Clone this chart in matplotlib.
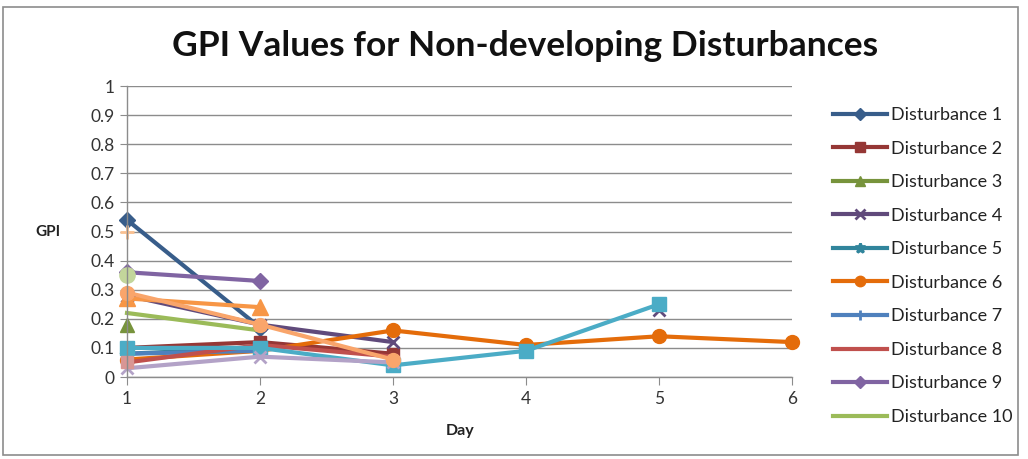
import numpy as np
import matplotlib
matplotlib.use("Agg")
import matplotlib.pyplot as plt
from matplotlib.patches import Rectangle

plt.rcParams['font.family'] = ['Lato', 'DejaVu Sans']

days = [1, 2, 3, 4, 5, 6]
nan = np.nan

names = ["Disturbance 1", "Disturbance 2", "Disturbance 3", "Disturbance 4",
         "Disturbance 5", "Disturbance 6", "Disturbance 7", "Disturbance 8",
         "Disturbance 9", "Disturbance 10", "Disturbance 11", "Disturbance 12",
         "Disturbance 13", "Disturbance 14", "Disturbance 15", "Disturbance 16",
         "Disturbance 17", "Disturbance 18"]

d1 = [0.54, 0.17, nan, nan, nan, nan]
d2 = [0.10, 0.12, 0.08, nan, nan, nan]
d3 = [0.18, nan, nan, nan, nan, nan]
d4 = [0.28, 0.18, 0.12, nan, 0.23, nan]
d5 = [0.08, 0.10, nan, nan, nan, nan]
d6 = [0.06, 0.09, 0.16, 0.11, 0.14, 0.12]
d7 = [0.08, 0.09, nan, nan, nan, nan]
d8 = [0.05, 0.11, 0.07, nan, nan, nan]
d9 = [0.36, 0.33, nan, nan, nan, nan]
d10 = [0.22, 0.16, nan, nan, nan, nan]
d11 = [0.10, 0.10, 0.04, 0.09, 0.25, nan]
d12 = [0.27, 0.24, nan, nan, nan, nan]
d13 = [0.03, 0.07, 0.05, nan, nan, nan]
d14 = [0.35, nan, nan, nan, nan, nan]
d15 = [0.29, 0.18, 0.06, nan, nan, nan]
d16 = [0.50, nan, nan, nan, nan, nan]
d17 = [0.05, nan, nan, nan, nan, nan]
d18 = [0.35, nan, nan, nan, nan, nan]

series = [d1, d2, d3, d4, d5, d6, d7, d8, d9, d10, d11, d12, d13, d14, d15, d16, d17, d18]

colors = ['#385D8A', '#953735', '#77933C', '#604A7B', '#31859C', '#E46C0A',
          '#4F81BD', '#C0504D', '#8064A2', '#9BBB59', '#4BACC6', '#F79646',
          '#B3A2C7', '#93CDDD', '#F9A56B', '#FAC090', '#D99694', '#C3D69B']
markers = ['D', 's', '^', 'x', '*', 'o', '+', '', 'D', '', 's', '^',
           'x', '*', 'o', '+', 's', 'o']
msizes = [8, 9, 10, 9, 10, 10, 10, 0, 8, 0, 10, 11, 9, 10, 10, 10, 9, 11]

W, H = 1028, 459
fig = plt.figure(figsize=(W / 100, H / 100), dpi=100)
fig.patch.set_facecolor('white')

# outer chart border
fig.add_artist(Rectangle((3 / W, 4 / H), 1015 / W, 448 / H, transform=fig.transFigure,
                         fill=False, edgecolor='#8c8c8c', linewidth=1.2))

ax = fig.add_axes([127 / W, 1 - 377 / H, (792 - 127) / W, (377 - 86) / H])

handles = []
for vals, c, m, ms, nm in zip(series, colors, markers, msizes, names):
    mew = 2 if m in ('x', '+', '*') else 1
    h, = ax.plot(days, vals, color=c, linewidth=3, marker=m if m else None,
                 markersize=ms, markeredgewidth=mew, markeredgecolor=c,
                 markerfacecolor=c, label=nm, clip_on=False)
    handles.append(h)

ax.set_xlim(1, 6)
ax.set_ylim(0, 1)
ax.set_yticks(np.arange(0, 1.01, 0.1))
ax.set_yticklabels(["0", "0.1", "0.2", "0.3", "0.4", "0.5", "0.6", "0.7", "0.8", "0.9", "1"])
ax.set_xticks(days)
ax.set_xticklabels([str(d) for d in days])
ax.grid(axis='y', color='#8c8c8c', linewidth=1)
ax.set_axisbelow(True)
for s in ['top', 'right']:
    ax.spines[s].set_visible(False)
ax.spines['left'].set_color('#8c8c8c')
ax.spines['bottom'].set_color('#8c8c8c')
ax.spines['left'].set_linewidth(1)
ax.spines['bottom'].set_linewidth(1)
ax.tick_params(axis='y', length=5, direction='out', color='#8c8c8c', labelsize=12.5, pad=4,
               labelcolor='#333333')
ax.tick_params(axis='x', length=6, direction='out', color='#8c8c8c', labelsize=12.5, pad=4,
               labelcolor='#333333')

fig.text(525 / W, 1 - 46 / H, "GPI Values for Non-developing Disturbances",
         ha='center', va='center', fontsize=25.5, fontweight='bold', color='#111111')
fig.text(48 / W, 1 - 232 / H, "GPI", ha='center', va='center', fontsize=11,
         fontweight='bold', color='#222222')
fig.text(460 / W, 1 - 431 / H, "Day", ha='center', va='center', fontsize=11.5,
         fontweight='bold', color='#222222')

leg = fig.legend(handles=handles[:10], loc='upper left',
                 bbox_to_anchor=(826 / W, 1 - 100 / H), frameon=False,
                 fontsize=13, labelspacing=0.97, handlelength=3.0,
                 handletextpad=0.2, borderaxespad=0, markerscale=0.75)
for t in leg.get_texts():
    t.set_color('#222222')

fig.savefig("out.png", dpi=100)
